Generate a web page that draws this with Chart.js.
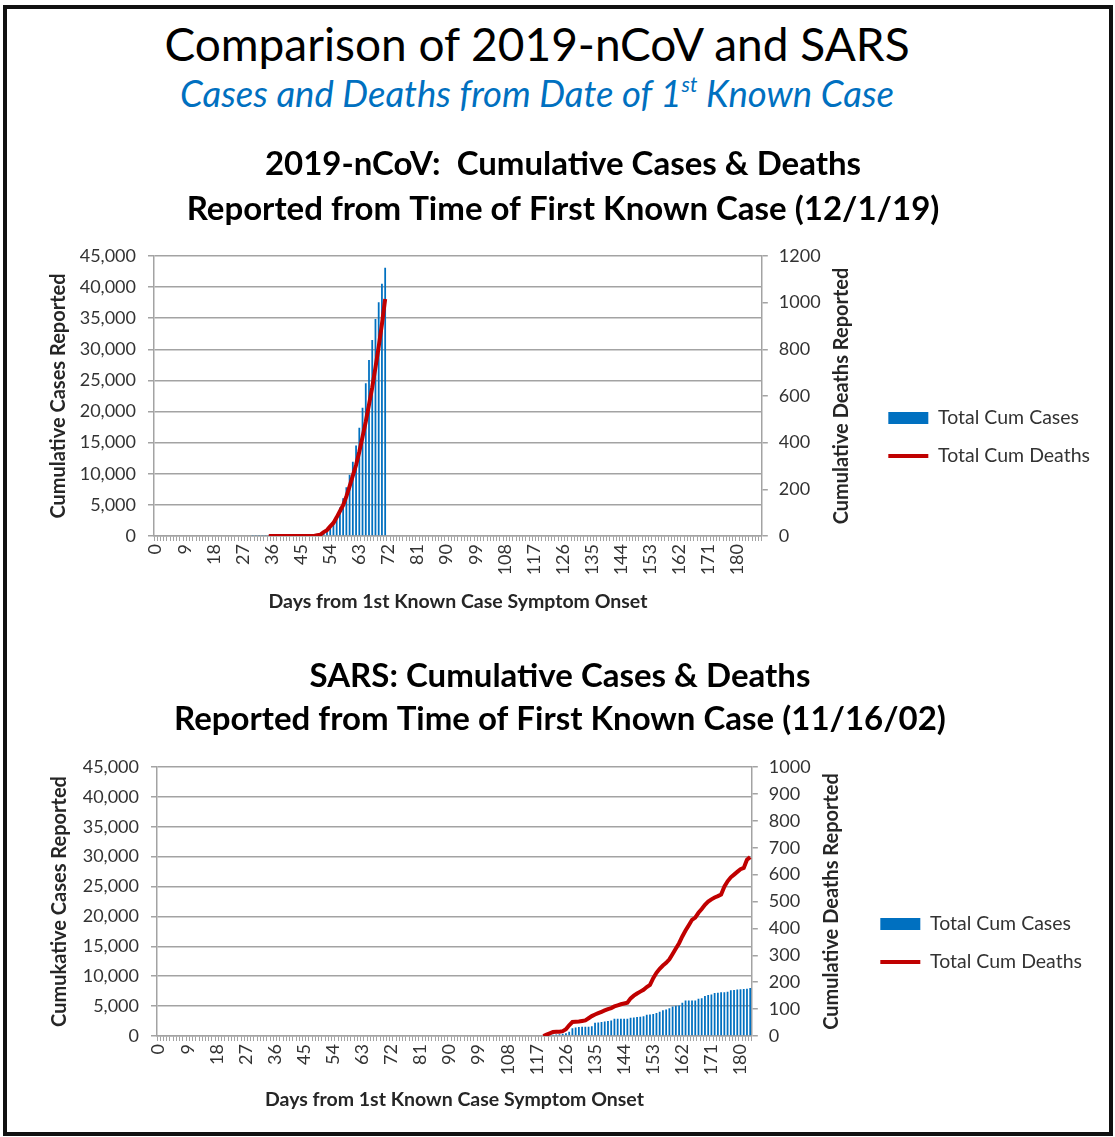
<!DOCTYPE html>
<html>
<head>
<meta charset="utf-8">
<script src="https://cdn.jsdelivr.net/npm/chart.js@4.4.1/dist/chart.umd.min.js"></script>
<style>
body { margin: 0; background: #fff; width: 1115px; height: 1137px; position: relative; overflow: hidden; font-family: Lato, sans-serif; }
#frame { position: absolute; left: 3px; top: 5px; width: 1110px; height: 1131px; box-sizing: border-box; border: 4px solid #111; }
.head { position: absolute; left: 0; width: 1074px; text-align: center; white-space: nowrap; }
#t1 { top: 16px; font-size: 46px; line-height: 56px; color: #000; }
#t2 { top: 70px; font-size: 36.5px; line-height: 46px; color: #0070C0; font-style: italic; }
#t2 sup { font-size: 21px; line-height: 0; vertical-align: 15px; }
canvas { position: absolute; left: 10px; }
#ncovChart { top: 130px; }
#sarsChart { top: 640px; }
</style>
</head>
<body>
<div id="frame"></div>
<div class="head" id="t1">Comparison of 2019-nCoV and SARS</div>
<div class="head" id="t2">Cases and Deaths from Date of 1<sup>st</sup> Known Case</div>
<canvas id="ncovChart" width="1105" height="490"></canvas>
<canvas id="sarsChart" width="1105" height="478"></canvas>
<script>
// ---- 2019-nCoV (day 0 = 12/1/19) ----
const ncovDays = Array.from({ length: 188 }, (_, i) => i);
const ncovCaseStart = 30;
const ncovCases = [150, 150, 150, 160, 160, 170, 170, 170, 170, 170,
  170, 170, 170, 170, 170, 170, 170, 170, 180, 180,
  201, 314, 581, 846, 1320, 2014, 2794, 4593, 6065, 7818,
  9826, 11953, 14557, 17391, 20630, 24554, 28276, 31481, 34886, 37558,
  40554, 43103];
const ncovDeathStart = 35;
const ncovDeaths = [0, 0, 0, 0, 0, 0, 0, 0, 0, 0, 0, 0, 0, 0, 0,
  3, 6, 17, 25, 41, 56, 80, 106, 132, 170, 213, 259, 304, 361, 425,
  490, 563, 637, 722, 811, 908, 1016];

// ---- SARS (day 0 = 11/16/02) ----
const sarsDays = Array.from({ length: 184 }, (_, i) => i);
const sarsCaseStart = 121;
const sarsCases = [170, 220, 265, 305, 390, 460, 720, 1300, 1410, 1490,
  1550, 1550, 1560, 1620, 2220, 2270, 2350, 2420, 2500, 2600,
  2890, 2890, 2890, 2890, 2890, 3050, 3100, 3170, 3230, 3290,
  3550, 3600, 3700, 3860, 4050, 4300, 4440, 4650, 4950, 5050,
  5100, 5550, 5950, 5950, 5950, 5950, 6230, 6300, 6700, 6850,
  6950, 7200, 7250, 7300, 7330, 7400, 7650, 7700, 7760, 7800,
  7850, 7900, 8050];
const sarsDeathStart = 119;
const sarsDeaths = [0, 5, 10, 15, 16, 16, 18, 25, 40, 52,
  53, 54, 56, 58, 66, 74, 80, 85, 90, 95,
  100, 104, 110, 114, 118, 121, 124, 140, 150, 158,
  165, 172, 182, 190, 215, 235, 250, 262, 272, 285,
  305, 325, 345, 370, 392, 412, 432, 440, 458, 472,
  488, 500, 508, 515, 520, 526, 555, 575, 590, 600,
  610, 620, 625, 655, 665];

const labelEvery = 9;
const caseLabel = 'Total Cum Cases';
const deathLabel = 'Total Cum Deaths';
const blue = '#0070C0';
const red = '#C00000';
const gridGray = '#A3A3A3';

Chart.defaults.font.family = 'Lato, "Liberation Sans", sans-serif';
Chart.defaults.color = '#333';

// place a series on the day axis
function onDays(days, start, values) {
  return days.map(d => (d >= start && d - start < values.length) ? values[d - start] : null);
}

// right axis title, drawn reading bottom-to-top like the left one
const sideTitle = {
  id: 'sideTitle',
  afterDraw(chart, args, opts) {
    const s = chart.scales.y1;
    const ctx = chart.ctx;
    ctx.save();
    ctx.translate(s.left + opts.offset, (s.top + s.bottom) / 2);
    ctx.rotate(-Math.PI / 2);
    ctx.font = 'bold 20px Lato';
    ctx.fillStyle = '#262626';
    ctx.textAlign = 'center';
    ctx.textBaseline = 'middle';
    ctx.fillText(opts.text, 0, 0);
    ctx.restore();
  }
};

function makeChart(id, cfg) {
  const ctx = document.getElementById(id).getContext('2d');
  return new Chart(ctx, {
    data: {
      labels: cfg.days,
      datasets: [{
        type: 'bar',
        label: caseLabel,
        data: cfg.cases,
        backgroundColor: blue,
        barPercentage: 0.55,
        categoryPercentage: 1,
        yAxisID: 'y',
        order: 1
      }, {
        type: 'line',
        label: deathLabel,
        data: cfg.deaths,
        borderColor: red,
        backgroundColor: red,
        borderWidth: 4,
        pointRadius: 0,
        tension: 0,
        yAxisID: 'y1',
        order: 0
      }]
    },
    options: {
      responsive: false,
      animation: false,
      devicePixelRatio: 1,
      layout: { padding: { left: cfg.padLeft, right: cfg.padRight, top: 0, bottom: 0 } },
      plugins: {
        tooltip: { enabled: false },
        title: {
          display: true,
          text: cfg.title,
          color: '#000',
          font: { size: 33, weight: 'bold', lineHeight: cfg.titleLine + 'px' },
          padding: cfg.titlePad
        },
        legend: {
          position: 'right',
          maxWidth: 300,
          title: { display: true, text: ' ', font: { size: 10 }, padding: { top: cfg.legendShift, bottom: 0 } },
          labels: {
            usePointStyle: true,
            pointStyleWidth: 40,
            boxHeight: 12,
            padding: 18.5,
            color: '#262626',
            font: { size: 19.5 },
            generateLabels: (chart) => chart.data.datasets.map((ds, i) => ({
              text: ds.label,
              fillStyle: ds.type === 'bar' ? blue : red,
              strokeStyle: ds.type === 'bar' ? blue : red,
              lineWidth: ds.type === 'bar' ? 0 : 4,
              pointStyle: ds.type === 'bar' ? 'rect' : 'line',
              hidden: false,
              datasetIndex: i
            }))
          }
        },
        sideTitle: { text: 'Cumulative Deaths Reported', offset: 80 }
      },
      scales: {
        x: {
          type: 'category',
          offset: true,
          afterFit: (s) => { s.height = cfg.xHeight; },
          grid: { drawOnChartArea: false, drawTicks: true, tickLength: 5, color: gridGray, lineWidth: 1 },
          border: { display: true, color: gridGray, width: 1.5 },
          ticks: {
            autoSkip: false,
            minRotation: 90,
            maxRotation: 90,
            padding: 3,
            color: '#333',
            font: { size: 18 },
            callback: function (v, i) { return i % labelEvery === 0 ? this.getLabelForValue(v) : ''; }
          },
          title: {
            display: true,
            text: 'Days from 1st Known Case Symptom Onset',
            color: '#262626',
            font: { size: 19.5, weight: 'bold' },
            padding: { top: 4, bottom: 7 }
          }
        },
        y: {
          position: 'left',
          min: 0,
          max: 45000,
          afterFit: (s) => { s.width = cfg.yWidth; },
          grid: { color: gridGray, lineWidth: 1.5, tickLength: 6 },
          border: { display: true, color: gridGray, width: 1.5 },
          ticks: {
            stepSize: 5000,
            padding: 12,
            color: '#333',
            font: { size: 18 },
            callback: (v) => v.toLocaleString('en-US')
          },
          title: {
            display: true,
            text: cfg.yTitle,
            color: '#262626',
            font: { size: 20, weight: 'bold' },
            padding: { top: cfg.yTitlePad, bottom: 0 }
          }
        },
        y1: {
          position: 'right',
          min: 0,
          max: cfg.deathMax,
          afterFit: (s) => { s.width = cfg.y1Width; },
          grid: { drawOnChartArea: false, color: gridGray, lineWidth: 1.5, tickLength: 6 },
          border: { display: true, color: gridGray, width: 1.5 },
          ticks: { stepSize: cfg.deathStep, padding: 11, color: '#333', font: { size: 18 }, callback: (v) => String(v) }
        }
      }
    },
    plugins: [sideTitle]
  });
}

makeChart('ncovChart', {
  days: ncovDays,
  cases: onDays(ncovDays, ncovCaseStart, ncovCases),
  deaths: onDays(ncovDays, ncovDeathStart, ncovDeaths),
  title: ['2019-nCoV:  Cumulative Cases & Deaths', 'Reported from Time of First Known Case (12/1/19)'],
  titleLine: 45,
  titlePad: { top: 12, bottom: 24 },
  yTitle: 'Cumulative Cases Reported',
  yTitlePad: 21,
  deathMax: 1200,
  deathStep: 200,
  padLeft: 16,
  padRight: 15,
  yWidth: 128,
  y1Width: 108,
  xHeight: 84,
  legendShift: 112
});

makeChart('sarsChart', {
  days: sarsDays,
  cases: onDays(sarsDays, sarsCaseStart, sarsCases),
  deaths: onDays(sarsDays, sarsDeathStart, sarsDeaths),
  title: ['SARS: Cumulative Cases & Deaths', 'Reported from Time of First Known Case (11/16/02)'],
  titleLine: 43,
  titlePad: { top: 15, bottom: 26 },
  yTitle: 'Cumukative Cases Reported',
  yTitlePad: 20,
  deathMax: 1000,
  deathStep: 100,
  padLeft: 18,
  padRight: 23,
  yWidth: 129,
  y1Width: 110,
  xHeight: 82,
  legendShift: 116
});
</script>
</body>
</html>
